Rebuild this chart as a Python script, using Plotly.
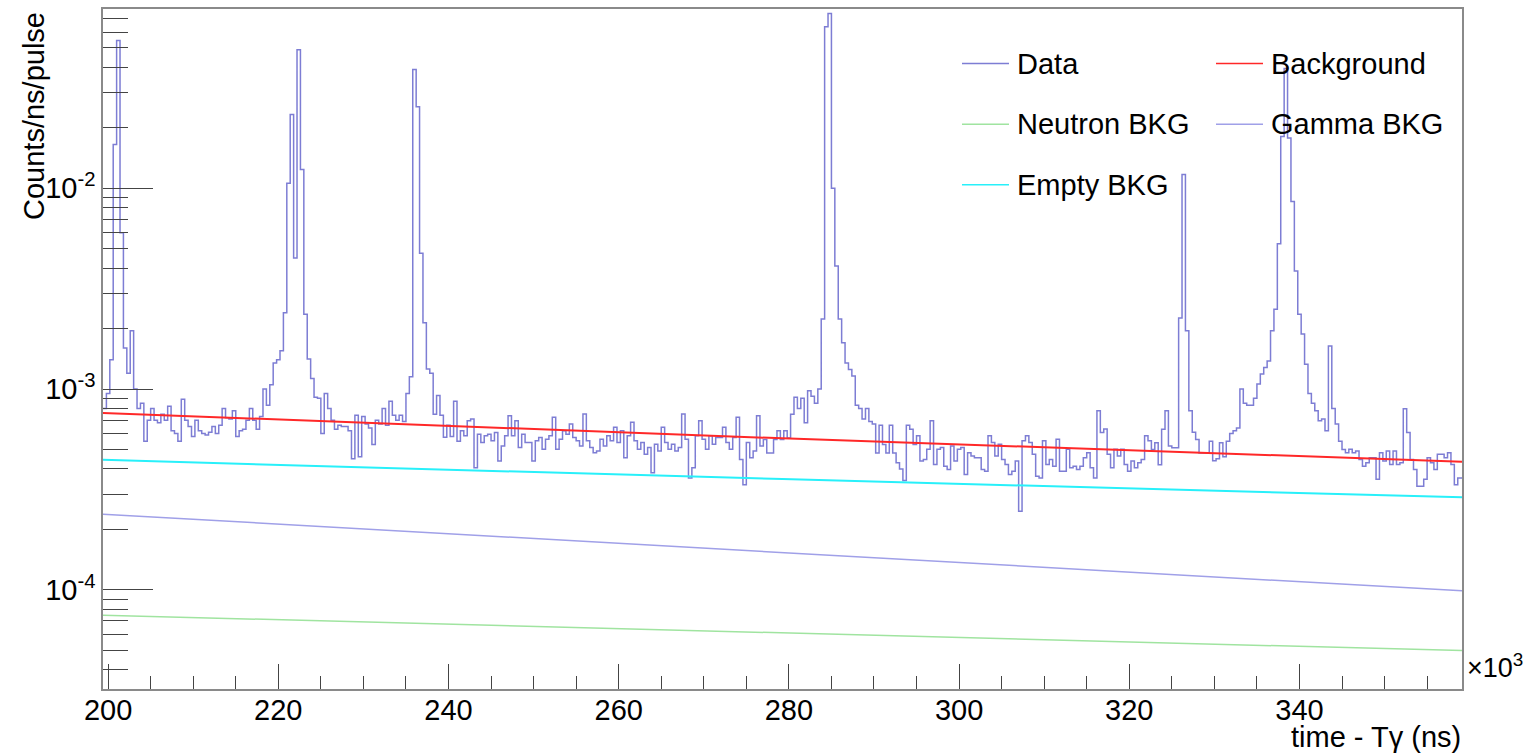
import plotly.graph_objects as go

# ---------------- data (time in units of 10^3 ns, counts in units of 1e-4 counts/ns/pulse) -------------
X_MIN = 199.4
BIN_W = 0.4
SCALE = 1e-4

counts_a = [8.0, 9.5, 14, 165, 545, 60, 16, 12, 19.5, 10,
            8.0, 8.5, 5.5, 7.0, 8.0, 7.0, 6.8, 7.5, 7.0, 8.2,
            6.2, 6.0, 5.5, 8.9, 7.0, 6.5, 5.8, 7.0, 6.2, 6.0,
            5.9, 6.1, 6.5, 6.0, 6.6, 8.0, 7.2, 7.1, 7.8, 5.8,
            6.2, 6.3, 7.0, 8.0, 7.0, 6.3, 7.3, 10.0, 8.3, 10.5,
            13.5, 14.0, 15.5, 24, 106, 233, 45, 490, 124, 23.6,
            14.1, 11.3, 9.1, 9.0, 6.0, 9.5, 8.0, 7.0, 6.3, 6.6,
            6.5, 6.5, 6.2, 4.5, 7.4, 4.6, 7.3, 6.7, 6.4, 5.3,
            7.0, 6.7, 8.0, 6.6, 8.7, 7.4, 7.0, 7.4, 6.9, 9.5,
            11.5, 391, 255, 47.5, 21.4, 12.6, 12.0, 7.5, 9.3, 7.4]

counts_b = [5.75, 6.6, 5.8, 8.7, 5.5, 6.20, 5.85, 6.96, 7.10, 4.05,
            5.96, 5.42, 5.85, 5.96, 5.52, 6.08, 4.38, 5.21, 5.85, 7.37,
            5.85, 6.96, 5.11, 5.96, 5.42, 5.42, 4.38, 5.52, 5.74, 5.01,
            5.63, 5.85, 7.24, 5.01, 5.63, 6.20, 5.96, 6.70, 5.74, 5.52,
            5.21, 7.51, 5.52, 5.11, 4.82, 4.91, 5.63, 5.21, 5.85, 5.52,
            6.45, 5.42, 6.20, 4.55, 5.85, 6.83, 5.52, 5.01, 5.42, 4.73,
            5.11, 3.83, 5.31, 4.91, 6.45, 5.42, 5.01, 5.31, 4.91, 5.11,
            7.51, 5.63, 3.61, 4.05, 5.85, 6.96, 5.63, 5.01, 5.85, 5.31,
            5.74, 5.74, 6.45, 5.42, 5.01, 5.74, 7.24, 4.46, 3.34, 5.42,
            4.55, 4.91, 7.37, 5.2, 5.6, 4.8, 4.8, 5.6, 6.2, 5.6]

counts_c = [6.2, 5.7, 7.5, 9.1, 8.0, 9.0, 6.8, 9.8, 9.2, 8.5,
            10.0, 22.3, 637, 743, 100, 41, 22.3, 17, 13.5, 12.5,
            11.6, 8.3, 8.0, 7.1, 8.0, 6.9, 6.7, 4.8, 6.6, 5.3,
            4.8, 6.6, 4.8, 4.3, 4.0, 3.5, 6.6, 6.3, 5.3, 5.85,
            4.38, 4.46, 5.01, 6.96, 4.21, 5.01, 5.11, 4.13, 3.97, 5.21,
            4.38, 5.01, 5.11, 3.75, 4.82, 4.64, 4.55, 4.55, 3.97, 3.90,
            5.85, 5.42, 4.64, 5.31, 4.46, 4.21, 3.75, 3.90, 4.38, 2.46,
            5.52, 5.85, 5.42, 4.73, 3.68, 3.61, 5.52, 4.21, 4.46, 4.13,
            5.63, 3.90, 3.90, 5.01, 4.05, 4.13, 3.97, 4.13, 4.55, 4.82,
            4.05, 3.61, 7.80, 6.08, 6.33, 4.73, 4.05, 5.01, 4.64, 5.01]

counts_d = [4.21, 3.90, 4.38, 4.05, 4.30, 4.46, 5.85, 5.52, 5.0, 5.4,
            4.2, 6.3, 7.8, 5.2, 5.1, 5.1, 22.6, 117, 19.5, 7.8,
            6.1, 5.6, 4.8, 4.8, 4.8, 5.5, 4.4, 4.5, 5.4, 4.6,
            5.5, 6.0, 6.2, 6.4, 10.0, 8.5, 8.3, 8.3, 9.0, 10.6,
            11.9, 12.8, 13.8, 19.5, 25, 53, 181, 395, 178, 86,
            38.7, 23.6, 18.8, 13.3, 9.5, 8.5, 7.8, 6.95, 7.1, 6.2,
            16.4, 8.0, 6.7, 5.5, 5.0, 4.82, 5.01, 4.82, 4.91, 4.46,
            4.13, 4.30, 4.55, 4.55, 3.55, 4.82, 4.38, 4.91, 4.21, 4.91,
            4.21, 4.30, 7.97, 6.08, 4.46, 3.97, 3.28, 3.28, 3.55, 4.55,
            4.30, 3.97, 4.73, 4.73, 4.55, 4.82, 4.21, 3.34, 3.61, 3.61]

# fitted background components (read at the ends / middle of the range)
bkg_x = [199.4, 279.25, 359.1]
background = [7.60, 5.68, 4.35]
empty_bkg = [4.44, 3.56, 2.89]
comp_x = [199.4, 359.1]
gamma_bkg = [2.38, 0.988]
neutron_bkg = [0.748, 0.498]

# axis labels
x_tick_vals = [200, 220, 240, 260, 280, 300, 320, 340]
y_tick_vals = [1e-4, 1e-3, 1e-2]
y_tick_text = ["10<sup>-4</sup>", "10<sup>-3</sup>", "10<sup>-2</sup>"]
x_title = "time - Tγ (ns)"
y_title = "Counts/ns/pulse"

# ---------------- styling ----------------
C_DATA = "rgb(125,125,212)"
C_BKG = "rgb(255,40,40)"
C_NEU = "rgb(160,228,160)"
C_GAM = "rgb(160,160,232)"
C_EMP = "rgb(40,240,250)"
FONT = "Liberation Sans, Arial, Helvetica, sans-serif"
FS = 29

W, H = 1527, 753
PL, PR, PT, PB = 103, 1462, 7, 689


def px(x):
    return (x - PL) / (PR - PL)


def py(y):
    return (PB - y) / (PB - PT)


data_all = counts_a + counts_b + counts_c + counts_d
edges = [X_MIN + BIN_W * i for i in range(len(data_all) + 1)]
y_step = [v * SCALE for v in data_all] + [data_all[-1] * SCALE]

fig = go.Figure()
fig.add_trace(go.Scatter(x=edges, y=y_step, mode="lines", line=dict(color=C_DATA, width=1.5, shape="hv"),
                         name="Data", showlegend=False))
fig.add_trace(go.Scatter(x=comp_x, y=[v * SCALE for v in neutron_bkg], mode="lines",
                         line=dict(color=C_NEU, width=1.5), name="Neutron BKG", showlegend=False))
fig.add_trace(go.Scatter(x=comp_x, y=[v * SCALE for v in gamma_bkg], mode="lines",
                         line=dict(color=C_GAM, width=1.5), name="Gamma BKG", showlegend=False))
fig.add_trace(go.Scatter(x=bkg_x, y=[v * SCALE for v in empty_bkg], mode="lines",
                         line=dict(color=C_EMP, width=2), name="Empty BKG", showlegend=False))
fig.add_trace(go.Scatter(x=bkg_x, y=[v * SCALE for v in background], mode="lines",
                         line=dict(color=C_BKG, width=2), name="Background", showlegend=False))

minor_y = [m * 10.0 ** e for e in range(-5, -1) for m in range(2, 10)]

fig.update_xaxes(range=[X_MIN, 359.1], tickvals=x_tick_vals, ticks="inside", ticklen=25, tickwidth=1,
                 tickcolor="#444", showline=True, linecolor="#8a8a8a", linewidth=1.5, mirror=True,
                 showgrid=False, zeroline=False, tickfont=dict(family=FONT, size=FS, color="black"),
                 ticklabelstandoff=-6,
                 minor=dict(dtick=5, tick0=200, ticks="inside", ticklen=13, tickwidth=1, tickcolor="#444",
                            showgrid=False))
fig.update_yaxes(type="log", range=[-4.494, -1.107], tickmode="array", tickvals=y_tick_vals,
                 ticktext=y_tick_text, ticks="inside", ticklen=50, tickwidth=1, tickcolor="#444",
                 showline=True, linecolor="#8a8a8a", linewidth=1.5, mirror=True, showgrid=False,
                 zeroline=False, tickfont=dict(family=FONT, size=FS, color="black"),
                 minor=dict(tickmode="array", tickvals=minor_y, ticks="inside", ticklen=25, tickwidth=1,
                            tickcolor="#444", showgrid=False))

annotations = [
    dict(text=y_title, xref="paper", yref="paper", x=px(34), y=py(8), xanchor="center", yanchor="top",
         textangle=-90, showarrow=False, font=dict(family=FONT, size=FS, color="black")),
    dict(text=x_title, xref="paper", yref="paper", x=px(1463), y=py(737), xanchor="right", yanchor="middle",
         showarrow=False, font=dict(family=FONT, size=FS, color="black")),
    dict(text="×10<sup>3</sup>", xref="paper", yref="paper", x=px(1465), y=py(666), xanchor="left",
         yanchor="middle", showarrow=False, font=dict(family=FONT, size=FS - 2, color="black")),
]

legend_items = [("Data", C_DATA, 962, 61.7), ("Background", C_BKG, 1216, 61.7),
                ("Neutron BKG", C_NEU, 962, 122.7), ("Gamma BKG", C_GAM, 1216, 122.7),
                ("Empty BKG", C_EMP, 962, 183.3)]
shapes = []
for name, col, lx, ly in legend_items:
    shapes.append(dict(type="line", xref="paper", yref="paper", x0=px(lx), x1=px(lx + 47), y0=py(ly), y1=py(ly),
                       line=dict(color=col, width=1.5)))
    annotations.append(dict(text=name, xref="paper", yref="paper", x=px(lx + 53), y=py(ly), xanchor="left",
                            yanchor="middle", showarrow=False, font=dict(family=FONT, size=FS, color="black")))

fig.update_layout(width=W, height=H, margin=dict(l=PL, r=W - PR, t=PT, b=H - PB),
                  paper_bgcolor="white", plot_bgcolor="white", showlegend=False,
                  annotations=annotations, shapes=shapes)

fig.write_html("out.html", config={"displayModeBar": False},
               post_script="document.body.style.margin='0';")
